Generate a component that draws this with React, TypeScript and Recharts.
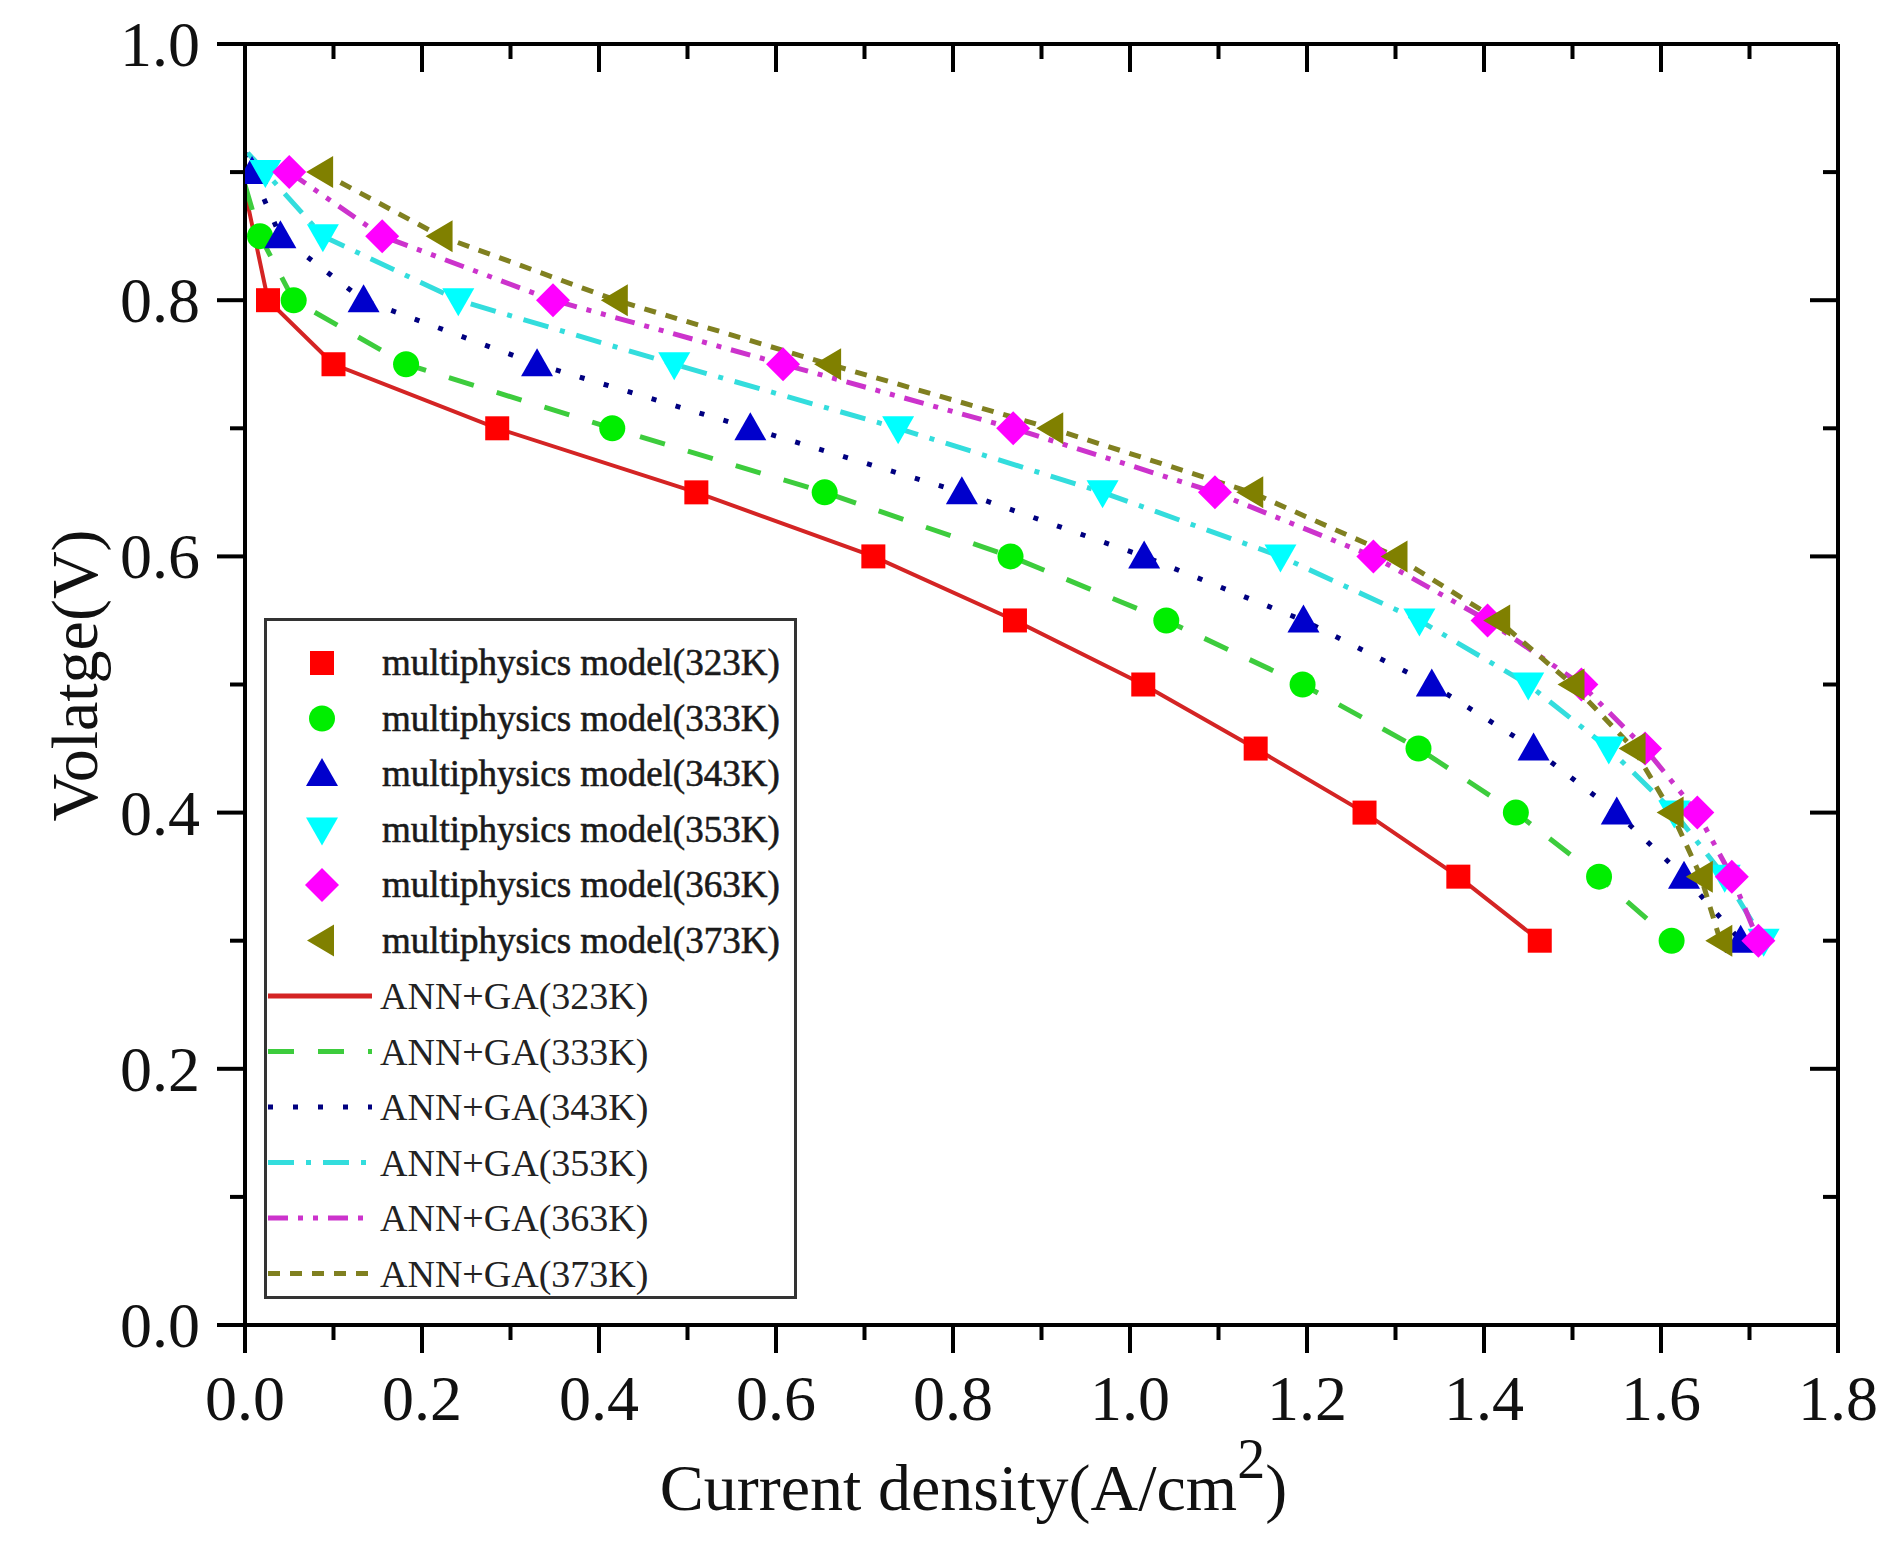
import React from 'react';
import { ComposedChart, Scatter, Line, XAxis, YAxis, Legend } from 'recharts';

const FONT = '"Liberation Serif", "Times New Roman", serif';

// axis ticks
const xTicks = [0, 0.1, 0.2, 0.3, 0.4, 0.5, 0.6, 0.7, 0.8, 0.9, 1.0, 1.1, 1.2, 1.3, 1.4, 1.5, 1.6, 1.7, 1.8];
const yTicks = [0, 0.1, 0.2, 0.3, 0.4, 0.5, 0.6, 0.7, 0.8, 0.9, 1.0];

// series
const temps = ['323K', '333K', '343K', '353K', '363K', '373K'];
const markerColors = ['#ff0000', '#00ee00', '#0000cc', '#00ffff', '#ff00ff', '#808000'];
const lineColors = ['#d42424', '#3dcc3d', '#000080', '#33dddd', '#cc33cc', '#808020'];
const markerShapes = ['square', 'circle', 'triangle', 'triangleDown', 'diamond', 'triangleLeft'];
const lineDashes = ['', '26 24', '5 20', '26 12 5 12', '20 10 5 10 5 10', '12 10'];

// multiphysics model points (current density A/cm2, voltage V)
const volt323 = [0.8, 0.75, 0.7, 0.65, 0.6, 0.55, 0.5, 0.45, 0.4, 0.35, 0.3];
const cur323 = [0.026, 0.1, 0.285, 0.51, 0.71, 0.87, 1.015, 1.142, 1.265, 1.371, 1.463];
const volt333 = [0.85, 0.8, 0.75, 0.7, 0.65, 0.6, 0.55, 0.5, 0.45, 0.4, 0.35, 0.3];
const cur333 = [0.017, 0.055, 0.182, 0.415, 0.655, 0.865, 1.041, 1.195, 1.326, 1.436, 1.53, 1.612];
const voltFull = [0.9, 0.85, 0.8, 0.75, 0.7, 0.65, 0.6, 0.55, 0.5, 0.45, 0.4, 0.35, 0.3];
const cur343 = [0.008, 0.04, 0.134, 0.33, 0.571, 0.81, 1.016, 1.196, 1.341, 1.456, 1.55, 1.626, 1.69];
const cur353 = [0.023, 0.088, 0.241, 0.485, 0.738, 0.969, 1.17, 1.327, 1.45, 1.541, 1.615, 1.672, 1.716];
const cur363 = [0.05, 0.155, 0.348, 0.608, 0.868, 1.096, 1.275, 1.404, 1.51, 1.582, 1.641, 1.68, 1.71];
const cur373 = [0.086, 0.221, 0.419, 0.66, 0.911, 1.137, 1.3, 1.416, 1.5, 1.569, 1.612, 1.645, 1.667];

// ANN+GA curves
const annVolt323 = [0.885, 0.8, 0.75, 0.7, 0.65, 0.6, 0.55, 0.5, 0.45, 0.4, 0.35, 0.3];
const annCur323 = [0, 0.026, 0.1, 0.285, 0.51, 0.71, 0.87, 1.015, 1.142, 1.265, 1.371, 1.463];
const annVolt333 = [0.89, 0.85, 0.8, 0.75, 0.7, 0.65, 0.6, 0.55, 0.5, 0.45, 0.4, 0.35, 0.3];
const annCur333 = [0, 0.017, 0.055, 0.182, 0.415, 0.655, 0.865, 1.041, 1.195, 1.326, 1.436, 1.53, 1.612];
const annVolt343 = [0.915, 0.9, 0.85, 0.8, 0.75, 0.7, 0.65, 0.6, 0.55, 0.5, 0.45, 0.4, 0.35, 0.3];
const annCur343 = [0, 0.008, 0.04, 0.134, 0.33, 0.571, 0.81, 1.016, 1.196, 1.341, 1.456, 1.55, 1.626, 1.69];
const annVolt353 = [0.915, 0.9, 0.85, 0.8, 0.75, 0.7, 0.65, 0.6, 0.55, 0.5, 0.45, 0.4, 0.35, 0.3];
const annCur353 = [0.003, 0.023, 0.088, 0.241, 0.485, 0.738, 0.969, 1.17, 1.327, 1.45, 1.541, 1.615, 1.672, 1.716];
const annCur363 = [0.05, 0.155, 0.348, 0.608, 0.868, 1.096, 1.275, 1.404, 1.51, 1.582, 1.641, 1.68, 1.71];
const annCur373 = [0.086, 0.221, 0.419, 0.66, 0.911, 1.137, 1.3, 1.416, 1.5, 1.569, 1.612, 1.645, 1.667];

const pts = (cur: number[], volt: number[]) => cur.map((j, i) => ({ j, v: volt[i] }));

const markerData = [
  pts(cur323, volt323),
  pts(cur333, volt333),
  pts(cur343, voltFull),
  pts(cur353, voltFull),
  pts(cur363, voltFull),
  pts(cur373, voltFull),
];
const annData = [
  pts(annCur323, annVolt323),
  pts(annCur333, annVolt333),
  pts(annCur343, annVolt343),
  pts(annCur353, annVolt353),
  pts(annCur363, voltFull),
  pts(annCur373, voltFull),
];

const isMajor = (v: number) => Math.round(v * 10) % 2 === 0;

function Marker({ cx, cy, shape, fill }: { cx: number; cy: number; shape: string; fill: string }) {
  if (cx == null || cy == null) return null;
  switch (shape) {
    case 'square':
      return <rect x={cx - 12} y={cy - 12} width={24} height={24} fill={fill} />;
    case 'circle':
      return <circle cx={cx} cy={cy} r={13} fill={fill} />;
    case 'triangle':
      return <polygon points={`${cx},${cy - 16} ${cx + 16},${cy + 12} ${cx - 16},${cy + 12}`} fill={fill} />;
    case 'triangleDown':
      return <polygon points={`${cx - 16},${cy - 12} ${cx + 16},${cy - 12} ${cx},${cy + 16}`} fill={fill} />;
    case 'diamond':
      return <polygon points={`${cx},${cy - 17} ${cx + 17},${cy} ${cx},${cy + 17} ${cx - 17},${cy}`} fill={fill} />;
    default:
      return <polygon points={`${cx - 15},${cy} ${cx + 12},${cy - 16} ${cx + 12},${cy + 16}`} fill={fill} />;
  }
}

const BottomTick = (p: any) => {
  const val = p.payload.value;
  const major = isMajor(val);
  return (
    <g>
      <line x1={p.x} x2={p.x} y1={p.y} y2={p.y + (major ? 28 : 15)} stroke="#000" strokeWidth={4} />
      {major && (
        <text x={p.x} y={p.y + 95} textAnchor="middle" fontFamily={FONT} fontSize={64} fill="#111">
          {val.toFixed(1)}
        </text>
      )}
    </g>
  );
};

const LeftTick = (p: any) => {
  const val = p.payload.value;
  const major = isMajor(val);
  return (
    <g>
      <line x1={p.x - (major ? 28 : 15)} x2={p.x} y1={p.y} y2={p.y} stroke="#000" strokeWidth={4} />
      {major && (
        <text x={p.x - 45} y={p.y + 22} textAnchor="end" fontFamily={FONT} fontSize={64} fill="#111">
          {val.toFixed(1)}
        </text>
      )}
    </g>
  );
};

// mirrored axes: ticks point into the plot
const TopTick = (p: any) => {
  const major = isMajor(p.payload.value);
  return <line x1={p.x} x2={p.x} y1={p.y} y2={p.y + (major ? 28 : 15)} stroke="#000" strokeWidth={4} />;
};

const RightTick = (p: any) => {
  const major = isMajor(p.payload.value);
  return <line x1={p.x - (major ? 28 : 15)} x2={p.x} y1={p.y} y2={p.y} stroke="#000" strokeWidth={4} />;
};

const XTitle = (props: any) => {
  const vb = props.viewBox || { x: 245, y: 1325, width: 1593, height: 220 };
  return (
    <text x={vb.x + vb.width / 2 - 68} y={vb.y + 185} textAnchor="middle" fontFamily={FONT} fontSize={66} fill="#111">
      Current density(A/cm
      <tspan dy={-32} fontSize={56}>2</tspan>
      <tspan dy={32}>)</tspan>
    </text>
  );
};

const YTitle = (props: any) => {
  const vb = props.viewBox || { x: 0, y: 44, width: 245, height: 1281 };
  const x = vb.x + 97;
  const y = vb.y + vb.height / 2 - 9;
  return (
    <text x={x} y={y} transform={`rotate(-90 ${x} ${y})`} textAnchor="middle" fontFamily={FONT} fontSize={66} fill="#111">
      Volatge(V)
    </text>
  );
};

const LegendBox = () => (
  <svg width={533} height={681} style={{ display: 'block' }}>
    <rect x={1.5} y={1.5} width={530} height={678} fill="#fff" stroke="#333" strokeWidth={3} />
    {temps.map((t, i) => {
      const y = 45 + i * 55.5;
      return (
        <g key={'m' + t}>
          <Marker cx={58} cy={y} shape={markerShapes[i]} fill={markerColors[i]} />
          <text x={118} y={y + 12} fontFamily={FONT} fontSize={37} fill="#1a1a1a" stroke="#1a1a1a" strokeWidth={0.6}>
            multiphysics model({t})
          </text>
        </g>
      );
    })}
    {temps.map((t, i) => {
      const y = 45 + (i + 6) * 55.5;
      return (
        <g key={'a' + t}>
          <line x1={4} x2={108} y1={y} y2={y} stroke={lineColors[i]} strokeWidth={5} strokeDasharray={lineDashes[i] || undefined} />
          <text x={116} y={y + 13} fontFamily={FONT} fontSize={38} fill="#222">
            ANN+GA({t})
          </text>
        </g>
      );
    })}
  </svg>
);

export default function App() {
  return (
    <div style={{ position: 'absolute', left: 0, top: 0, width: 1904, height: 1545, background: '#fff' }}>
      <ComposedChart width={1904} height={1545} margin={{ top: 43, right: 65, bottom: 0, left: 0 }}>
        <XAxis
          dataKey="j"
          type="number"
          domain={[0, 1.8]}
          ticks={xTicks}
          interval={0}
          allowDataOverflow
          height={220}
          tickSize={0}
          tickMargin={0}
          tickLine={false}
          tick={<BottomTick />}
          axisLine={{ stroke: '#000', strokeWidth: 4 }}
          label={XTitle}
        />
        <XAxis
          xAxisId="top"
          orientation="top"
          dataKey="j"
          type="number"
          domain={[0, 1.8]}
          ticks={xTicks}
          interval={0}
          allowDataOverflow
          height={1}
          tickSize={0}
          tickMargin={0}
          tickLine={false}
          tick={<TopTick />}
          axisLine={{ stroke: '#000', strokeWidth: 4 }}
        />
        <YAxis
          dataKey="v"
          type="number"
          domain={[0, 1]}
          ticks={yTicks}
          interval={0}
          allowDataOverflow
          width={245}
          tickSize={0}
          tickMargin={0}
          tickLine={false}
          tick={<LeftTick />}
          axisLine={{ stroke: '#000', strokeWidth: 4 }}
          label={YTitle}
        />
        <YAxis
          yAxisId="right"
          orientation="right"
          dataKey="v"
          type="number"
          domain={[0, 1]}
          ticks={yTicks}
          interval={0}
          allowDataOverflow
          width={1}
          tickSize={0}
          tickMargin={0}
          tickLine={false}
          tick={<RightTick />}
          axisLine={{ stroke: '#000', strokeWidth: 4 }}
        />
        <Legend
          layout="vertical"
          align="center"
          verticalAlign="middle"
          content={<LegendBox />}
          wrapperStyle={{ left: 264, top: 618, width: 533, height: 681 }}
        />
        {markerData.map((d, i) => (
          <Scatter
            key={'s' + temps[i]}
            name={`multiphysics model(${temps[i]})`}
            data={d}
            dataKey="v"
            isAnimationActive={false}
            shape={(p: any) => <Marker cx={p.cx} cy={p.cy} shape={markerShapes[i]} fill={markerColors[i]} />}
          />
        ))}
        {annData.map((d, i) => (
          <Line
            key={'l' + temps[i]}
            name={`ANN+GA(${temps[i]})`}
            data={d}
            dataKey="v"
            type="linear"
            stroke={lineColors[i]}
            strokeWidth={i === 0 ? 4 : 5}
            strokeDasharray={lineDashes[i] || undefined}
            dot={false}
            activeDot={false}
            isAnimationActive={false}
          />
        ))}
        {/* invisible series so the mirrored axes get drawn */}
        <Line
          xAxisId="top"
          yAxisId="right"
          data={annData[0]}
          dataKey="v"
          stroke="none"
          dot={false}
          activeDot={false}
          legendType="none"
          isAnimationActive={false}
        />
      </ComposedChart>
    </div>
  );
}
